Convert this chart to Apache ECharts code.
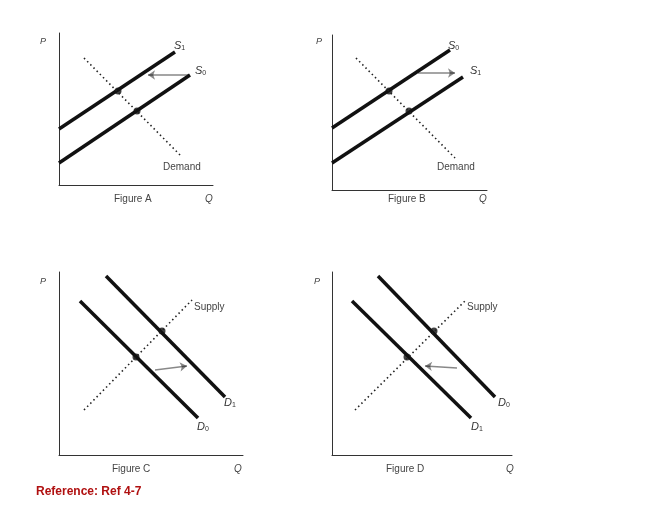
<!DOCTYPE html><html><head><meta charset="utf-8"><script src="https://cdn.jsdelivr.net/npm/echarts@6/dist/echarts.min.js"></script></head><body style="margin:0"><div id="c" style="width:650px;height:506px"></div><script>
// Each figure: origin and axis extents (px), lines as [[x0,y0],[x1,y1]] in axis units (origin-relative)
const figA_S1=[[0,56],[116,133]], figA_S0=[[0,22],[131,110]], figA_D=[[25,127],[123,28]], figA_pts=[[59,94],[78,74]], figA_arrow=[[129,110],[89,110]];
const figB_S0=[[0,62],[118,140]], figB_S1=[[0,27],[131,113]], figB_D=[[24,132],[123,32]], figB_pts=[[57,99],[77,79]], figB_arrow=[[86,117],[123,117]];
const figC_D1=[[47,179],[166,58]], figC_D0=[[21,154],[139,37]], figC_S=[[25,45],[133,155]], figC_pts=[[103,124],[77,98]], figC_arrow=[[96,85],[128,89]];
const figD_D0=[[46,179],[163,58]], figD_D1=[[20,154],[139,37]], figD_S=[[23,45],[134,155]], figD_pts=[[102,124],[75,98]], figD_arrow=[[125,87],[93,89]];
const figs=[
 {ox:59,oy:185,w:154,h:152,solid:[figA_S1,figA_S0],dot:figA_D,pts:figA_pts,arrow:figA_arrow},
 {ox:332,oy:190,w:155,h:155,solid:[figB_S0,figB_S1],dot:figB_D,pts:figB_pts,arrow:figB_arrow},
 {ox:59,oy:455,w:184,h:183,solid:[figC_D1,figC_D0],dot:figC_S,pts:figC_pts,arrow:figC_arrow},
 {ox:332,oy:455,w:180,h:183,solid:[figD_D0,figD_D1],dot:figD_S,pts:figD_pts,arrow:figD_arrow}];
const grid=[],xAxis=[],yAxis=[],series=[];
figs.forEach((f,i)=>{
 grid.push({left:f.ox,top:f.oy-f.h,width:f.w,height:f.h});
 const ax={gridIndex:i,type:'value',min:0,axisLine:{show:true,lineStyle:{color:'#333',width:1}},axisTick:{show:false},axisLabel:{show:false},splitLine:{show:false}};
 xAxis.push(Object.assign({max:f.w},ax)); yAxis.push(Object.assign({max:f.h},ax));
 f.solid.forEach(d=>series.push({type:'line',xAxisIndex:i,yAxisIndex:i,data:d,symbol:'none',lineStyle:{color:'#111',width:3.5}}));
 series.push({type:'line',xAxisIndex:i,yAxisIndex:i,data:f.dot,symbol:'none',lineStyle:{color:'#222',width:1.6,type:[1.5,3]}});
 series.push({type:'scatter',xAxisIndex:i,yAxisIndex:i,data:f.pts,symbolSize:7,itemStyle:{color:'#111'}});
 series.push({type:'lines',coordinateSystem:'cartesian2d',xAxisIndex:i,yAxisIndex:i,data:[{coords:f.arrow}],symbol:['none','arrow'],symbolSize:7,lineStyle:{color:'#111',width:1.5}});
});
const T=(x,y,t,o)=>Object.assign({type:'text',x,y,style:Object.assign({text:t,fill:'#444',font:'10px "Liberation Sans"'},o||{})});
const sub=(x,y,a,b)=>T(x,y,'{a|'+a+'}{b|'+b+'}',{rich:{a:{fontSize:11,fontStyle:'italic',fill:'#333'},b:{fontSize:7,padding:[5,0,0,0],fill:'#333'}}});
const graphic=[
 T(40,37,'P',{font:'italic 9px "Liberation Sans"'}),T(205,194,'Q',{font:'italic 10px "Liberation Sans"'}),T(114,194,'Figure A'),
 sub(174,40,'S','1'),sub(195,65,'S','0'),T(163,162,'Demand'),
 T(316,37,'P',{font:'italic 9px "Liberation Sans"'}),T(479,194,'Q',{font:'italic 10px "Liberation Sans"'}),T(388,194,'Figure B'),
 sub(448,40,'S','0'),sub(470,65,'S','1'),T(437,162,'Demand'),
 T(40,277,'P',{font:'italic 9px "Liberation Sans"'}),T(234,464,'Q',{font:'italic 10px "Liberation Sans"'}),T(112,464,'Figure C'),
 T(194,302,'Supply'),sub(224,397,'D','1'),sub(197,421,'D','0'),
 T(314,277,'P',{font:'italic 9px "Liberation Sans"'}),T(506,464,'Q',{font:'italic 10px "Liberation Sans"'}),T(386,464,'Figure D'),
 T(467,302,'Supply'),sub(498,397,'D','0'),sub(471,421,'D','1'),
 T(36,486,'Reference: Ref 4-7',{fill:'#b01010',font:'bold 12px "Liberation Sans"'})];
echarts.init(document.getElementById('c')).setOption({animation:false,backgroundColor:'#fff',grid,xAxis,yAxis,series,graphic});
</script></body></html>
